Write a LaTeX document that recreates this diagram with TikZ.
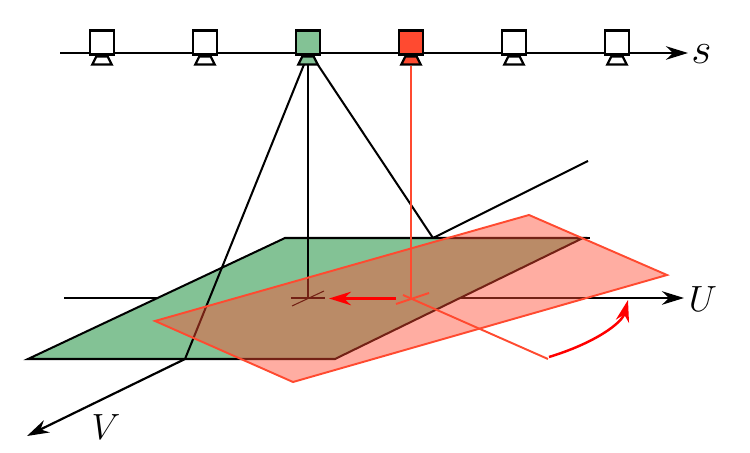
\documentclass[tikz,border=0pt]{standalone}
\usepackage{amsmath}
\usetikzlibrary{arrows.meta,shapes.geometric}
\definecolor{planegreen}{HTML}{83C295}
\definecolor{planered}{HTML}{FF4A30}
\tikzset{
	axisline/.style={line width=1.25pt,-{Stealth[length=.44cm,width=.27cm,inset=.14cm]}},
	plainline/.style={line width=1.15pt},
	redline/.style={line width=1.1pt,planered},
	redarrow/.style={line width=1.4pt,red,-{Stealth[length=.44cm,width=.27cm,inset=.14cm]}},
	cambox/.style={draw,line width=1.25pt,rectangle,minimum size=.48cm,inner sep=0pt},
	camfoot/.style={draw,line width=1.25pt,trapezium,trapezium stretches=true,trapezium left angle=70,trapezium right angle=70,minimum width=.39cm,minimum height=.16cm,inner sep=.5pt},
	axislabel/.style={font=\huge}
}
\begin{document}
\begin{tikzpicture}
	\useasboundingbox (0,0) rectangle (15,9.06);
	%
	\coordinate (sstart) at (1.2,8.0);
	\coordinate (send)   at (13.76,8.0);
	\coordinate (ustart) at (1.28,3.1);
	\coordinate (uhide)  at (3.14,3.1);
	\coordinate (uback)  at (9.2,3.1);
	\coordinate (uend)   at (13.68,3.1);
	\coordinate (vback)  at (8.66,4.3);
	\coordinate (vfar)   at (11.76,5.84);
	\coordinate (vfront) at (3.7,1.88);
	\coordinate (vend)   at (0.54,0.34);
	\coordinate (gleft)  at (0.56,1.88);
	\coordinate (gtop)   at (5.7,4.3);
	\coordinate (gright) at (11.66,4.3);
	\coordinate (gedge)  at (11.8,4.3);
	\coordinate (gbot)   at (6.7,1.88);
	\coordinate (rleft)  at (3.1,2.64);
	\coordinate (rtop)   at (10.58,4.76);
	\coordinate (rright) at (13.34,3.56);
	\coordinate (rbot)   at (5.86,1.42);
	\coordinate (gcross) at (6.16,3.1);
	\coordinate (rcross) at (8.22,3.1);
	\coordinate (rayleft)  at (6.1,7.82);
	\coordinate (rayright) at (6.32,7.82);
	\coordinate (raymid)   at (6.16,7.8);
	%
	%axes and green plane
	\draw[axisline] (sstart)--(send);
	\draw[plainline] (ustart)--(uhide);
	\draw[axisline] (uback)--(uend);
	\draw[plainline] (vback)--(vfar);
	\draw[plainline,fill=planegreen] (gleft)--(gtop)--(gright)--(gbot)--cycle;
	\draw[plainline] (gright)--(gedge);
	\draw[axisline] (vfront)--(vend);
	
	%cameras
	\node[cambox,fill=white] (cam1) at (2.04,8.21) {};
	\node[cambox,fill=white] (cam2) at (4.10,8.21) {};
	\node[cambox,fill=white] (cam5) at (10.28,8.21) {};
	\node[cambox,fill=white] (cam6) at (12.34,8.21) {};
	\node[camfoot] (foot1) at (2.04,7.85) {};
	\node[camfoot] (foot2) at (4.10,7.85) {};
	\node[camfoot] (foot5) at (10.28,7.85) {};
	\node[camfoot] (foot6) at (12.34,7.85) {};
	
	%black rays
	\draw[plainline] (rayleft)--(vfront);
	\draw[plainline] (rayright)--(vback);
	\draw[plainline] (raymid)--(gcross);
	
	%green cross
	\coordinate (gca) at (5.82,3.1);
	\coordinate (gcb) at (6.5,3.1);
	\coordinate (gcc) at (5.84,2.94);
	\coordinate (gcd) at (6.48,3.24);
	\draw[semithick] (gca)--(gcb);
	\draw[semithick] (gcc)--(gcd);
	
	%red plane
	\draw[redline,fill=planered,fill opacity=.45] (rleft)--(rtop)--(rright)--(rbot)--cycle;
	
	%red cameras and ray
	\node[cambox,fill=planegreen] (cam3) at (6.16,8.21) {};
	\node[camfoot,fill=planegreen] (foot3) at (6.16,7.85) {};
	\node[cambox,fill=planered] (cam4) at (8.22,8.21) {};
	\node[camfoot,fill=planered] (foot4) at (8.22,7.85) {};
	\draw[redline] (foot4.south)--(rcross);
	
	%red cross
	\coordinate (rca) at (7.92,2.98);
	\coordinate (rcb) at (8.58,3.2);
	\coordinate (rcc) at (8.06,3.16);
	\coordinate (rcd) at (10.96,1.88);
	\draw[redline] (rca)--(rcb);
	\draw[redline] (rcc)--(rcd);
	
	%red arrows
	\coordinate (mvstart) at (7.92,3.09);
	\coordinate (mvend)   at (6.58,3.09);
	\coordinate (tiltstart) at (10.98,1.92);
	\coordinate (tiltctla)  at (11.9,2.2);
	\coordinate (tiltctlb)  at (12.44,2.6);
	\coordinate (tiltend)   at (12.56,3.06);
	\draw[redarrow] (mvstart)--(mvend);
	\draw[redarrow] (tiltstart) .. controls (tiltctla) and (tiltctlb) .. (tiltend);
	
	%labels
	\node[axislabel,font=\fontsize{24}{28}\selectfont] (slabel) at (14.03,7.98) {$s$};
	\node[axislabel] (ulabel) at (14.06,3.08) {$U$};
	\node[axislabel] (vlabel) at (2.12,0.52) {$V$};
\end{tikzpicture}
\end{document}
